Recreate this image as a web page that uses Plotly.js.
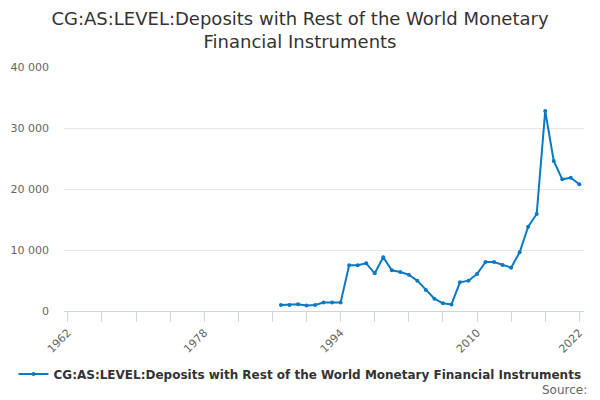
<!DOCTYPE html>
<html>
<head>
<meta charset="utf-8">
<script src="https://cdn.plot.ly/plotly-3.0.1.min.js"></script>
<style>html,body{margin:0;padding:0;background:#fff}#chart{width:600px;height:400px}</style>
</head>
<body>
<div id="chart"></div>
<script>
const years = [1987,1988,1989,1990,1991,1992,1993,1994,1995,1996,1997,1998,1999,2000,2001,2002,2003,2004,2005,2006,2007,2008,2009,2010,2011,2012,2013,2014,2015,2016,2017,2018,2019,2020,2021,2022];
const values = [1000,1000,1100,900,1000,1400,1380,1380,7490,7490,7820,6180,8800,6670,6390,5950,4970,3440,2020,1260,1080,4700,4970,6070,8030,8030,7540,7100,9620,13820,15900,32790,24590,21590,21850,20770];
const seriesName = "CG:AS:LEVEL:Deposits with Rest of the World Monetary Financial Instruments";
const titleText = "CG:AS:LEVEL:Deposits with Rest of the World Monetary<br>Financial Instruments";
const xTickVals = [1962,1966,1970,1974,1978,1982,1986,1990,1994,1998,2002,2006,2010,2014,2018,2022];
const xTickText = ["1962","","","","1978","","","","1994","","","","2010","","","2022"];
const yTickVals = [0,10000,20000,30000,40000];

const font = "DejaVu Sans, sans-serif";
const trace = {
  x: years, y: values, name: seriesName, type: "scatter", mode: "lines+markers",
  line: {color: "#0a78c2", width: 2},
  marker: {color: "#0a78c2", size: 4}
};
const layout = {
  width: 600, height: 400,
  margin: {l: 64, r: 16, t: 67, b: 89},
  paper_bgcolor: "#fff", plot_bgcolor: "#fff",
  font: {family: font, color: "#666", size: 11},
  separators: ". ",
  title: {text: titleText, x: 0.5, xanchor: "center", y: 0.9375, yanchor: "middle", font: {family: font, size: 18, color: "#333"}},
  xaxis: {
    range: [1961.55, 2022.55], tickvals: xTickVals, ticktext: xTickText, tickangle: -45,
    ticks: "outside", ticklen: 10, tickcolor: "#ccd6eb", showgrid: false, zeroline: false,
    showline: true, linecolor: "#ccd6eb", linewidth: 1, tickfont: {size: 11, color: "#666"}
  },
  yaxis: {
    range: [0, 40000], tickvals: yTickVals, tickformat: ",", showgrid: true, gridcolor: "#e6e6e6",
    zeroline: false, showline: false, ticks: "", ticklabelstandoff: 14, tickfont: {size: 11, color: "#666"}
  },
  showlegend: true,
  legend: {orientation: "h", x: 0.5, xanchor: "center", xref: "container", y: 0.065, yref: "container", yanchor: "middle",
    font: {family: font, size: 12, color: "#333", weight: "bold"}, itemwidth: 30},
  annotations: [{text: "Source:", xref: "paper", yref: "paper", x: 1.01, xanchor: "right", y: -0.325, yanchor: "middle",
    showarrow: false, font: {family: font, size: 12, color: "#666"}}]
};
Plotly.newPlot("chart", [trace], layout, {displayModeBar: false, staticPlot: true});
</script>
</body>
</html>
